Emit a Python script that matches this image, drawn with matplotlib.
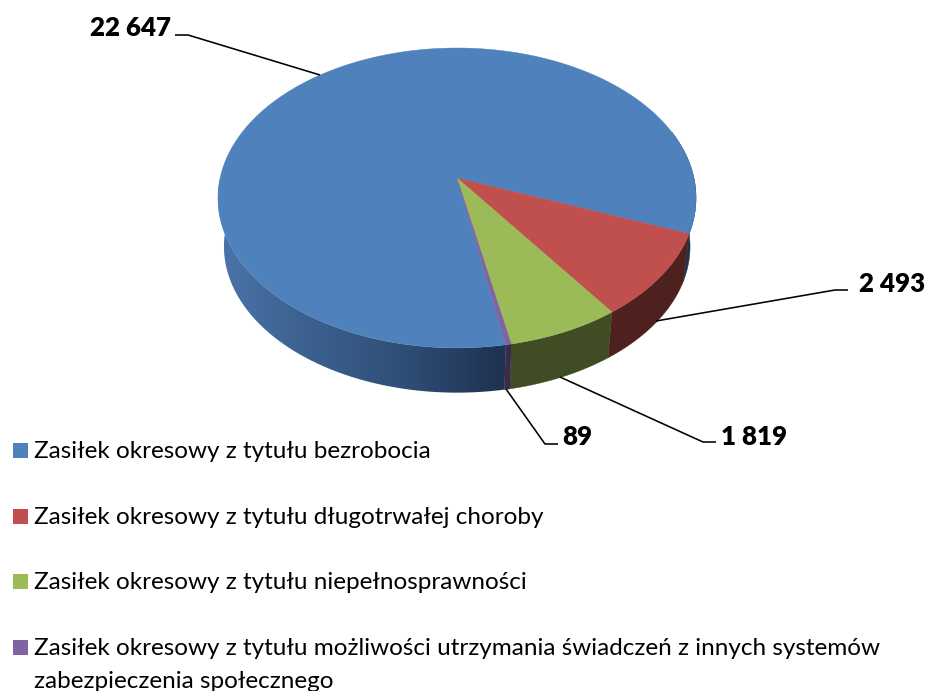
import numpy as np
import matplotlib
matplotlib.use('Agg')
import matplotlib.pyplot as plt
from matplotlib.colors import to_rgb
from matplotlib.patches import Polygon, Rectangle

categories = [
    'Zasiłek okresowy z tytułu bezrobocia',
    'Zasiłek okresowy z tytułu długotrwałej choroby',
    'Zasiłek okresowy z tytułu niepełnosprawności',
    'Zasiłek okresowy z tytułu możliwości utrzymania świadczeń z innych systemów\nzabezpieczenia społecznego',
]
values = [22647, 2493, 1819, 89]
top_colors = ['#4f81bd', '#c0504d', '#9bbb59', '#8064a2']
wall_colors = ['#1f3350', '#4e201e', '#404c24', '#3a2a4c']

# first slice starts here, going clockwise (degrees, maths convention)
start_angle = 280.3

# perspective of the disc, in pixels
CX, CY = 457, 178
R, r, k = 236.9, 147.3, 0.133
WALL_SCALE, WALL_DROP = 0.975, 49


def to_screen(theta, scale=1.0, drop=0.0):
    u, v = np.cos(np.radians(theta)), np.sin(np.radians(theta))
    w = 1 + k * v
    return CX + scale * R * u / w, CY + drop - scale * r * v / w


def wall_polygon(hi, lo):
    th = np.linspace(hi, lo, 300)
    x0, y0 = to_screen(th)
    x1, y1 = to_screen(th[::-1], WALL_SCALE, WALL_DROP)
    return np.column_stack([np.r_[x0, x1], np.r_[y0, y1]])


fig = plt.figure(figsize=(9.27, 6.91), dpi=100)
ax = fig.add_axes([0, 0, 1, 1])
ax.axis('off')

total = sum(values)
sweeps = [v / total * 360 for v in values]
edges = start_angle - np.concatenate([[0], np.cumsum(sweeps)])

# the wall of the big slice darkens from left to right
stops_x = [225, 300, 400, 505, 700]
stops_c = [to_rgb(c) for c in ['#4a73a8', '#3d6291', '#304f77', '#1e3150', '#1e3150']]
grad_x = np.arange(200, 720)
grad = np.dstack([np.interp(grad_x, stops_x, [c[i] for c in stops_c])[None, :] for i in range(3)])
img = ax.imshow(grad, extent=(200, 720, 420, 180), aspect='auto', zorder=1, interpolation='bilinear')

ax.set_xlim(0, 927)
ax.set_ylim(691, 0)

# blue shows on both ends of the front rim
wall_left = Polygon(wall_polygon(edges[0], 150), closed=True, facecolor='none', edgecolor='none')
ax.add_patch(wall_left)
img.set_clip_path(wall_left)
ax.add_patch(Polygon(wall_polygon(edges[1], edges[1] + 40), closed=True, facecolor=wall_colors[0],
                     edgecolor=wall_colors[0], linewidth=0.3, zorder=1))

for i in range(1, len(values)):
    ax.add_patch(Polygon(wall_polygon(edges[i], edges[i + 1]), closed=True, facecolor=wall_colors[i],
                         edgecolor=wall_colors[i], linewidth=0.3, zorder=1))

for i in range(len(values)):
    th = np.linspace(edges[i], edges[i + 1], 400)
    x, y = to_screen(th)
    pts = np.vstack([[CX, CY], np.column_stack([x, y])])
    ax.add_patch(Polygon(pts, closed=True, facecolor=top_colors[i], edgecolor=top_colors[i], linewidth=0.3, zorder=2))

# leader lines and value labels
leaders = [
    ([175, 188, 320], [35, 35, 75]),
    ([656, 835, 848], [321, 290, 290]),
    ([560, 703, 716], [377, 442, 442]),
    ([506, 545, 558], [389, 444, 444]),
]
label_pos = [(90, 35.5), (859, 292), (721, 444.5), (562, 444.5)]
for (lx, ly), (tx, ty), v in zip(leaders, label_pos, values):
    ax.plot(lx, ly, color='black', lw=1.15, zorder=3, solid_capstyle='butt')
    ax.text(tx, ty, f'{v:,}'.replace(',', ' '), fontsize=18.6, fontweight='heavy', family='Lato',
            ha='left', va='baseline', color='black')

# legend
legend_tops = [443, 509, 574, 640]
legend_base = [458, 524, 589, 655]
for name, col, top, base in zip(categories, top_colors, legend_tops, legend_base):
    ax.add_patch(Rectangle((13, top), 15, 15, facecolor=col, edgecolor='none'))
    lines = name.split('\n')
    for j, line in enumerate(lines):
        ax.text(34, base + j * 33, line, fontsize=17.5, family='Lato', ha='left', va='baseline', color='black')

fig.savefig('out.png', dpi=100)
